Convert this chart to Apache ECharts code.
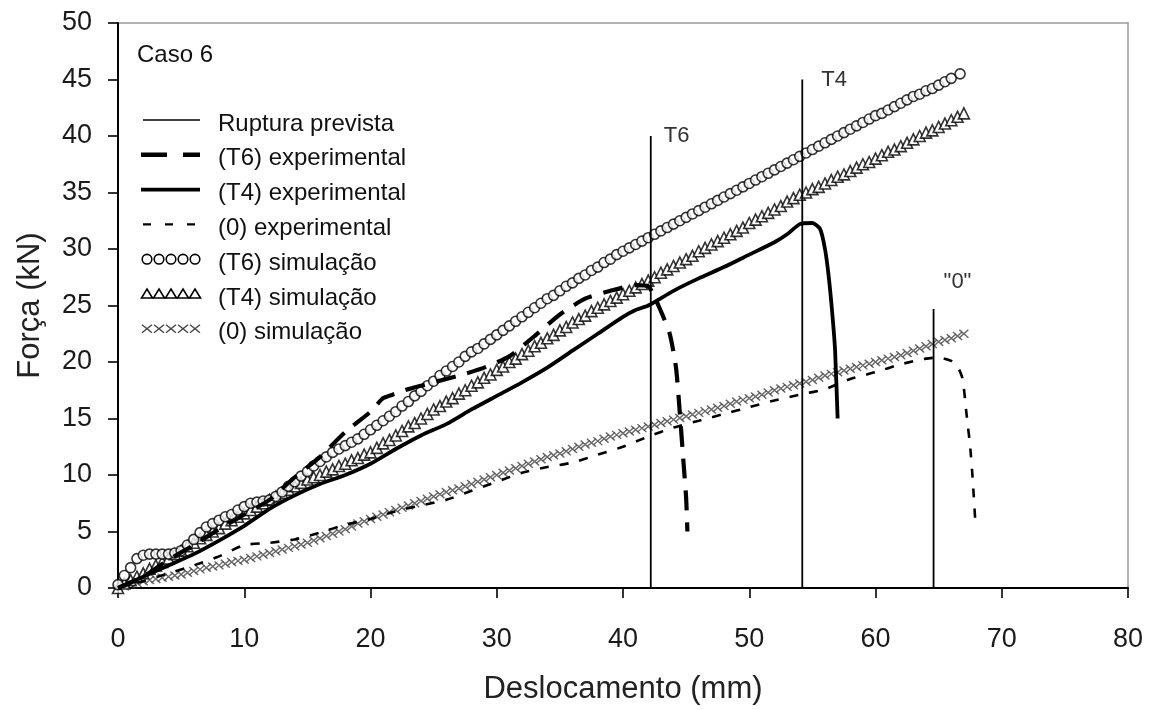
<!DOCTYPE html>
<html><head><meta charset="utf-8">
<script src="https://cdn.jsdelivr.net/npm/echarts@6/dist/echarts.min.js"></script>
<style>html,body{margin:0;padding:0;background:#fff}#c{width:1149px;height:710px}</style>
</head><body><div id="c"></div>
<script>
// ---- data ----
var t6SimX = [0,0.5,1,1.5,2,2.5,3,3.5,4,4.5,5,5.5,6,6.5,7,7.5,8,8.5,9,9.5,10,10.5,11,11.5,12,12.5,13,13.5,14,14.5,15,15.5,16,16.5,17,17.5,18,18.5,19,19.5,20,20.5,21,21.5,22,22.5,23,23.5,24,24.5,25,25.5,26,26.5,27,27.5,28,28.5,29,29.5,30,30.5,31,31.5,32,32.5,33,33.5,34,34.5,35,35.5,36,36.5,37,37.5,38,38.5,39,39.5,40,40.5,41,41.5,42,42.5,43,43.5,44,44.5,45,45.5,46,46.5,47,47.5,48,48.5,49,49.5,50,50.5,51,51.5,52,52.5,53,53.5,54,54.5,55,55.5,56,56.5,57,57.5,58,58.5,59,59.5,60,60.5,61,61.5,62,62.5,63,63.5,64,64.5,65,65.5,66,66.7];
var t6SimY = [0.3,1.1,1.8,2.6,2.9,3.0,3.0,3.0,3.0,3.1,3.3,3.8,4.3,4.9,5.4,5.7,6.0,6.3,6.5,6.9,7.2,7.5,7.6,7.7,7.8,8.1,8.5,9.0,9.4,9.9,10.3,10.8,11.2,11.6,12.0,12.3,12.6,12.9,13.2,13.6,14.0,14.4,14.8,15.2,15.6,16.1,16.5,17.0,17.4,17.9,18.3,18.8,19.2,19.6,20.0,20.5,20.9,21.2,21.6,22.0,22.4,22.8,23.2,23.6,24.0,24.4,24.8,25.2,25.6,25.9,26.3,26.7,27.0,27.4,27.7,28.1,28.4,28.8,29.1,29.5,29.8,30.1,30.4,30.7,31.0,31.3,31.6,31.9,32.2,32.5,32.8,33.1,33.4,33.7,34.0,34.3,34.6,34.9,35.2,35.5,35.8,36.1,36.4,36.7,37.0,37.3,37.6,37.9,38.2,38.5,38.8,39.1,39.4,39.7,40.0,40.3,40.6,40.9,41.2,41.5,41.8,42.0,42.3,42.6,42.9,43.2,43.5,43.7,44.0,44.2,44.5,44.8,45.1,45.5];
var t4SimX = [0,0.5,1,1.5,2,2.5,3,3.5,4,4.5,5,5.5,6,6.5,7,7.5,8,8.5,9,9.5,10,10.5,11,11.5,12,12.5,13,13.5,14,14.5,15,15.5,16,16.5,17,17.5,18,18.5,19,19.5,20,20.5,21,21.5,22,22.5,23,23.5,24,24.5,25,25.5,26,26.5,27,27.5,28,28.5,29,29.5,30,30.5,31,31.5,32,32.5,33,33.5,34,34.5,35,35.5,36,36.5,37,37.5,38,38.5,39,39.5,40,40.5,41,41.5,42,42.5,43,43.5,44,44.5,45,45.5,46,46.5,47,47.5,48,48.5,49,49.5,50,50.5,51,51.5,52,52.5,53,53.5,54,54.5,55,55.5,56,56.5,57,57.5,58,58.5,59,59.5,60,60.5,61,61.5,62,62.5,63,63.5,64,64.5,65,65.5,66,66.5,67];
var t4SimY = [0,0.4,0.7,1.0,1.3,1.7,2.0,2.3,2.6,3.0,3.3,3.7,4.0,4.4,4.7,5.0,5.3,5.7,6.0,6.3,6.6,6.9,7.2,7.5,7.8,8.1,8.4,8.7,9.0,9.3,9.6,9.8,10.0,10.3,10.5,10.8,11.0,11.3,11.5,11.8,12.0,12.4,12.8,13.1,13.5,13.9,14.3,14.6,15.0,15.4,15.8,16.1,16.5,16.8,17.2,17.5,17.9,18.2,18.6,18.9,19.3,19.6,20.0,20.3,20.7,21.0,21.4,21.7,22.1,22.4,22.8,23.1,23.5,23.8,24.1,24.5,24.8,25.1,25.4,25.7,26.0,26.3,26.6,26.9,27.2,27.5,27.9,28.2,28.5,28.8,29.1,29.4,29.8,30.1,30.4,30.7,31.0,31.3,31.6,31.9,32.3,32.6,32.9,33.2,33.5,33.8,34.2,34.5,34.8,35.0,35.3,35.5,35.8,36.1,36.4,36.6,36.9,37.2,37.5,37.7,38.0,38.3,38.6,38.8,39.1,39.4,39.7,40.0,40.3,40.5,40.8,41.1,41.4,41.7,42.0];
var zeroSimX = [0,0.5,1,1.5,2,2.5,3,3.5,4,4.5,5,5.5,6,6.5,7,7.5,8,8.5,9,9.5,10,10.5,11,11.5,12,12.5,13,13.5,14,14.5,15,15.5,16,16.5,17,17.5,18,18.5,19,19.5,20,20.5,21,21.5,22,22.5,23,23.5,24,24.5,25,25.5,26,26.5,27,27.5,28,28.5,29,29.5,30,30.5,31,31.5,32,32.5,33,33.5,34,34.5,35,35.5,36,36.5,37,37.5,38,38.5,39,39.5,40,40.5,41,41.5,42,42.5,43,43.5,44,44.5,45,45.5,46,46.5,47,47.5,48,48.5,49,49.5,50,50.5,51,51.5,52,52.5,53,53.5,54,54.5,55,55.5,56,56.5,57,57.5,58,58.5,59,59.5,60,60.5,61,61.5,62,62.5,63,63.5,64,64.5,65,65.5,66,66.5,67];
var zeroSimY = [0,0.15,0.3,0.45,0.6,0.7,0.8,0.9,1.0,1.1,1.2,1.35,1.5,1.65,1.8,1.9,2.0,2.15,2.3,2.4,2.5,2.65,2.8,2.95,3.1,3.25,3.4,3.55,3.7,3.85,4.0,4.2,4.4,4.6,4.8,5.0,5.2,5.45,5.7,5.9,6.1,6.3,6.5,6.7,6.9,7.1,7.3,7.5,7.7,7.9,8.1,8.3,8.5,8.65,8.8,9.0,9.2,9.4,9.6,9.8,10.0,10.2,10.4,10.6,10.8,11.0,11.2,11.4,11.6,11.75,11.9,12.1,12.3,12.5,12.7,12.85,13.0,13.2,13.4,13.55,13.7,13.85,14.0,14.15,14.3,14.45,14.6,14.75,14.9,15.05,15.2,15.35,15.5,15.65,15.8,15.95,16.1,16.3,16.5,16.65,16.8,16.95,17.1,17.3,17.5,17.65,17.8,17.95,18.1,18.25,18.4,18.6,18.8,18.95,19.1,19.25,19.4,19.55,19.7,19.85,20.0,20.15,20.3,20.45,20.6,20.8,21.0,21.2,21.4,21.6,21.8,21.95,22.1,22.3,22.5];

var t6ExpX = [0,2,4,6,8,10,12,13,14,16,18,20,21,22,23,25,27,29,31,33,35,37,39,41,42,43,43.7,44.2,44.5,44.8,45,45.1];
var t6ExpY = [0,1,2.5,3.8,5.2,6.5,7.8,8.8,9.8,11.6,13.8,15.6,16.8,17.2,17.6,18.2,18.8,19.5,20.5,22.3,24.2,25.6,26.3,26.8,26.7,24.5,22.5,19.5,15.5,11,8,5];
var t4ExpX = [0,2,4,6,8,10,12,14,16,18,20,22,24,26,28,30,32,34,36,38,40,41,42,44,46,48,50,52,53,54,55,55.6,56,56.3,56.6,56.8,57];
var t4ExpY = [0,1,2,3,4.2,5.5,7,8.2,9.2,10,11,12.3,13.5,14.5,15.8,17,18.2,19.5,21,22.5,24,24.6,25,26.3,27.4,28.4,29.5,30.6,31.3,32.2,32.3,31.8,30,27.5,24,21,15];
var zeroExpX = [0,2,4,6,8,10,12,14,16,18,20,22,24,26,28,30,32,34,36,38,40,42,44,46,48,50,52,54,56,58,60,62,64,65,66,66.5,66.9,67.2,67.5,67.7,67.9];
var zeroExpY = [0,0.6,1.3,2,2.8,3.8,4,4.3,4.9,5.6,6.1,6.8,7.3,7.8,8.6,9.4,10.2,10.7,11.1,11.8,12.5,13.4,14.2,14.8,15.4,16,16.6,17.1,17.6,18.5,19.1,19.8,20.3,20.4,20.1,19.6,18.5,15.5,12.5,9.6,6];

var ruptureX = [42.2, 54.2, 64.6];
var ruptureTop = [40, 45, 24.7];
var ruptureLabels = ['T6', 'T4', '"0"'];

var legendNames = ['Ruptura prevista','(T6) experimental','(T4) experimental','(0) experimental','(T6) simulação','(T4) simulação','(0) simulação'];
var caseTitle = 'Caso 6';
var xTitle = 'Deslocamento (mm)';
var yTitle = 'Força (kN)';

function zip(xs, ys){ return xs.map(function(x,i){ return [x, ys[i]]; }); }

var FONT = 'Liberation Sans, Arial, sans-serif';
var XPATH = 'path://M0,0 L10,10 M10,0 L0,10';

var series = [];
// simulations
series.push({type:'scatter', name:legendNames[6], data:zip(zeroSimX, zeroSimY), symbol:XPATH, symbolSize:[9,8],
  itemStyle:{color:'rgba(0,0,0,0)', borderColor:'#444', borderWidth:1.4}, z:2});
series.push({type:'scatter', name:legendNames[5], data:zip(t4SimX, t4SimY), symbol:'triangle', symbolSize:11,
  itemStyle:{color:'#fff', borderColor:'#000', borderWidth:1.6}, z:3});
series.push({type:'scatter', name:legendNames[4], data:zip(t6SimX, t6SimY), symbol:'circle', symbolSize:10,
  itemStyle:{color:'#fff', borderColor:'#000', borderWidth:1.6}, z:3});
// experiments
series.push({type:'line', name:legendNames[3], data:zip(zeroExpX, zeroExpY), showSymbol:false, smooth:0.2,
  lineStyle:{color:'#000', width:2.6, type:[9,11]}, z:4});
series.push({type:'line', name:legendNames[1], data:zip(t6ExpX, t6ExpY), showSymbol:false, smooth:0.2,
  lineStyle:{color:'#000', width:4.2, type:[20,12]}, z:4});
series.push({type:'line', name:legendNames[2], data:zip(t4ExpX, t4ExpY), showSymbol:false, smooth:0.2,
  lineStyle:{color:'#000', width:3.8}, z:5});
// rupture lines
var labelOffsets = [[8,0],[14,0],[5,-27]];
ruptureX.forEach(function(x, i){
  series.push({type:'line', name:legendNames[0], showSymbol:true, symbol:'circle', symbolSize:0.01,
    lineStyle:{color:'#000', width:1.8}, itemStyle:{color:'#000'}, z:6,
    data:[[x,0], {value:[x, ruptureTop[i]], label:{show:true, formatter:ruptureLabels[i], position:'right',
      offset:labelOffsets[i], color:'#333', fontSize:22, fontFamily:FONT}}]});
});

// legend (graphic)
var gx0 = 143, gx1 = 200, gy0 = 124, gdy = 34.8, tx = 218;
var graphics = [];
graphics.push({type:'text', left:137, top:43, style:{text:caseTitle, fontSize:24, fontFamily:FONT, fill:'#111'}});
legendNames.forEach(function(n, i){
  var y = gy0 + i*gdy;
  graphics.push({type:'text', x:tx, y:y, style:{text:n, fontSize:24, fontFamily:FONT, fill:'#111', verticalAlign:'middle'}});
});
var ly = function(i){ return gy0 + i*gdy - 4; };
graphics.push({type:'line', shape:{x1:gx0,y1:ly(0),x2:gx1,y2:ly(0)}, style:{stroke:'#000', lineWidth:1.6}});
graphics.push({type:'line', shape:{x1:gx0-2,y1:ly(1),x2:gx1,y2:ly(1)}, style:{stroke:'#000', lineWidth:4.5, lineDash:[26,16]}});
graphics.push({type:'line', shape:{x1:gx0-2,y1:ly(2),x2:gx1,y2:ly(2)}, style:{stroke:'#000', lineWidth:3.8}});
graphics.push({type:'line', shape:{x1:gx0,y1:ly(3),x2:gx1,y2:ly(3)}, style:{stroke:'#000', lineWidth:2.4, lineDash:[8,14]}});
for (var k=0;k<5;k++){
  var cx = gx0 + 4 + k*12;
  graphics.push({type:'circle', shape:{cx:cx, cy:ly(4), r:4.8}, style:{fill:'#fff', stroke:'#000', lineWidth:1.6}});
  graphics.push({type:'polygon', shape:{points:[[cx-5.5,ly(5)+4],[cx+5.5,ly(5)+4],[cx,ly(5)-5]]}, style:{fill:'#fff', stroke:'#000', lineWidth:1.6}});
  graphics.push({type:'polyline', shape:{points:[[cx-5,ly(6)-4],[cx+5,ly(6)+4]]}, style:{stroke:'#444', lineWidth:1.4}});
  graphics.push({type:'polyline', shape:{points:[[cx+5,ly(6)-4],[cx-5,ly(6)+4]]}, style:{stroke:'#444', lineWidth:1.4}});
}

var chart = echarts.init(document.getElementById('c'), null, {renderer:'canvas'});
chart.setOption({
  animation:false,
  backgroundColor:'#fff',
  grid:{left:118, right:21, top:23, bottom:121, show:true, borderColor:'#999', borderWidth:1.5},
  xAxis:{type:'value', min:0, max:80, interval:10,
    name:xTitle, nameLocation:'middle', nameGap:86, nameTextStyle:{fontSize:31, fontFamily:FONT, color:'#222'},
    axisLine:{lineStyle:{color:'#000', width:2}}, axisTick:{show:true, length:10, lineStyle:{color:'#000', width:1.6}},
    axisLabel:{fontSize:27, fontFamily:FONT, color:'#1a1a1a', margin:38}, splitLine:{show:false}},
  yAxis:{type:'value', min:0, max:50, interval:5,
    name:yTitle, nameLocation:'middle', nameGap:72, nameTextStyle:{fontSize:31, fontFamily:FONT, color:'#222'},
    axisLine:{lineStyle:{color:'#000', width:2}}, axisTick:{show:true, length:10, lineStyle:{color:'#000', width:1.6}},
    axisLabel:{fontSize:27, fontFamily:FONT, color:'#1a1a1a', margin:26}, splitLine:{show:false}},
  graphic:graphics,
  series:series
});
</script></body></html>
